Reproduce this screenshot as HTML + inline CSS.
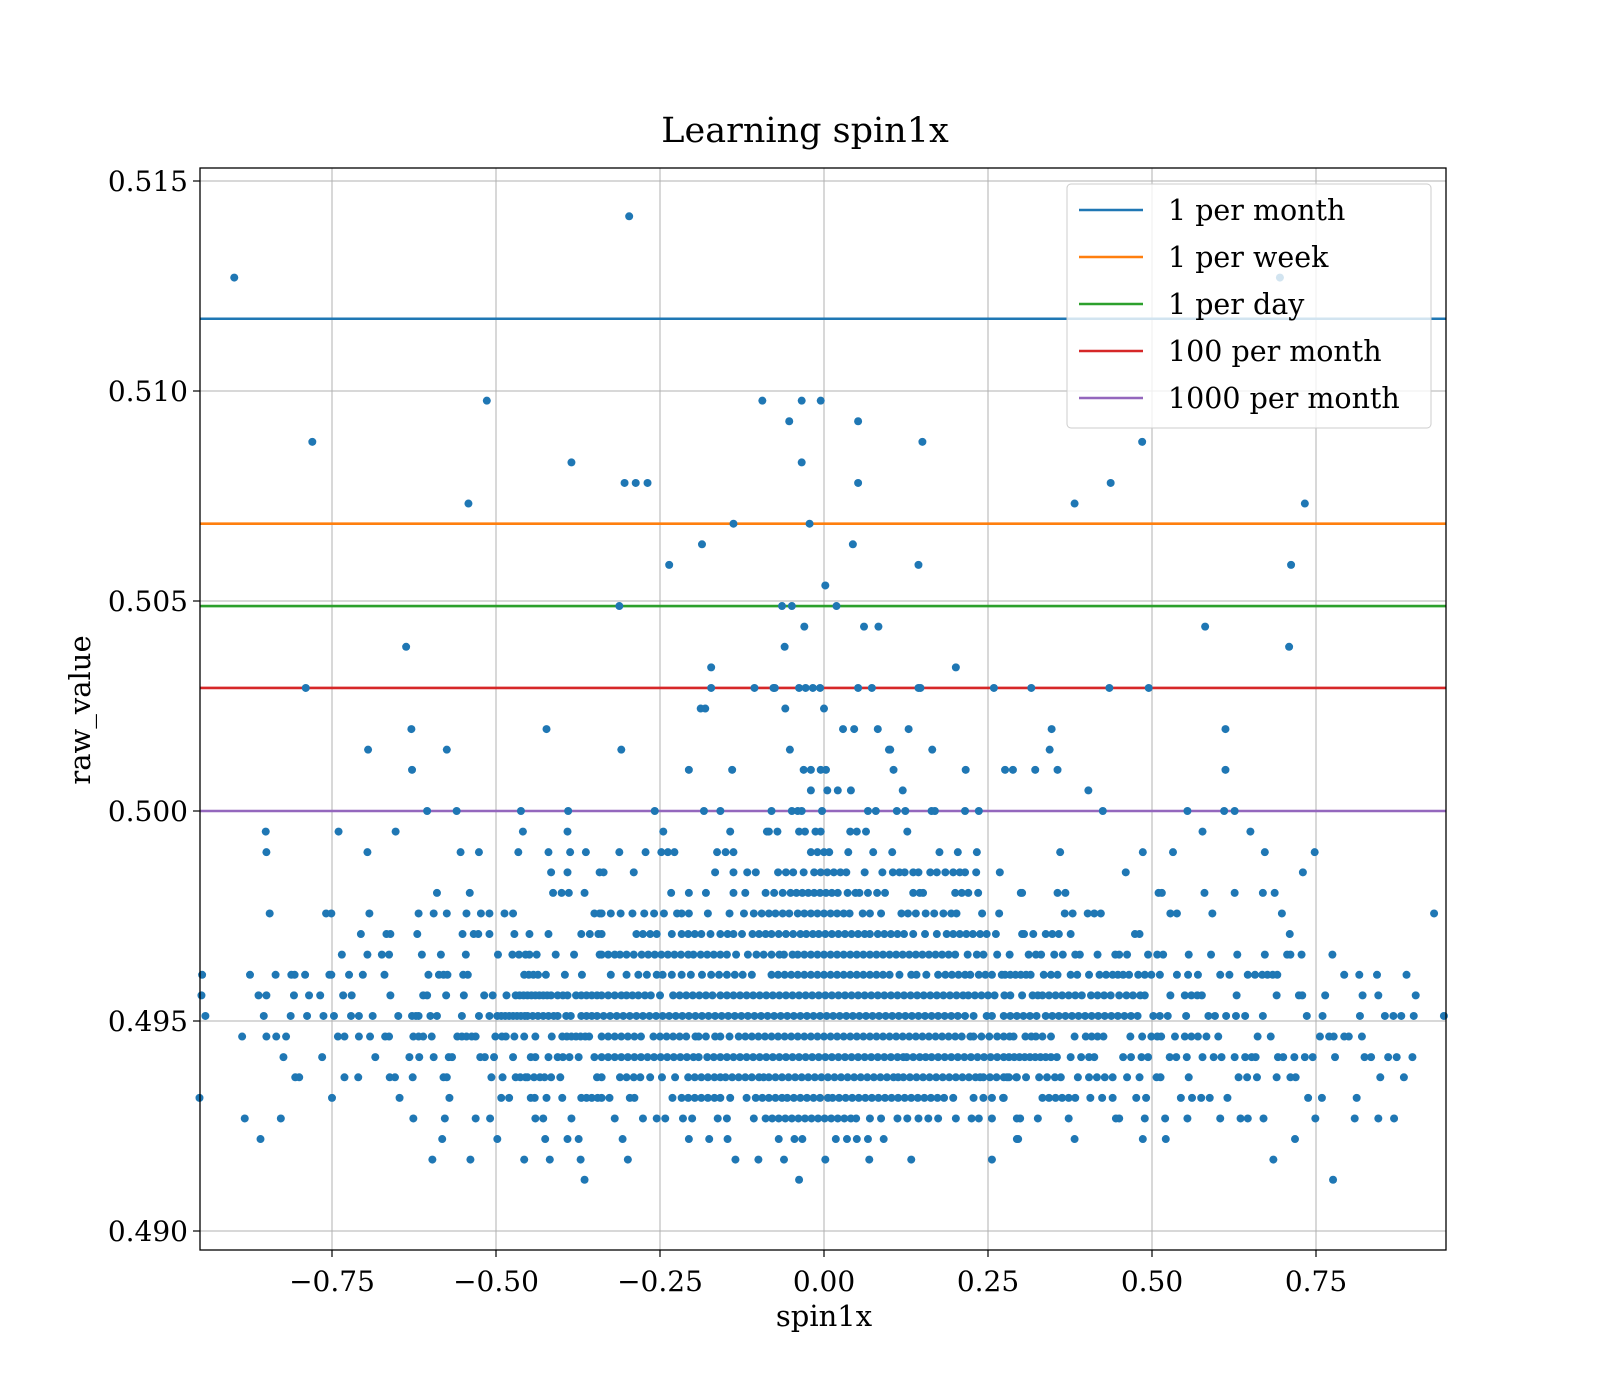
<!DOCTYPE html>
<html><head><meta charset="utf-8"><title>Learning spin1x</title>
<style>
html,body{margin:0;padding:0;background:#fff;}
svg{display:block;font-family:"DejaVu Serif","Liberation Serif",serif;}
</style></head>
<body>
<svg id="chart" width="1600" height="1400" viewBox="0 0 1600 1400" xmlns="http://www.w3.org/2000/svg">
<rect x="0" y="0" width="1600" height="1400" fill="#fff"/>
<text x="805" y="142" font-size="35" text-anchor="middle">Learning spin1x</text>
<g id="grid"></g>
<g id="hlines"></g>
<g id="points"></g>
<rect x="200" y="168" width="1246" height="1082" fill="none" stroke="#000" stroke-width="1.3"/>
<g id="xticks"></g>
<g id="yticks"></g>
<text x="824" y="1326" font-size="29" text-anchor="middle">spin1x</text>
<text x="90" y="710" font-size="29" text-anchor="middle" transform="rotate(-90 90 710)">raw_value</text>
<g id="legend">
<rect x="1067" y="184" width="364" height="244" rx="4" fill="#fff" fill-opacity="0.8" stroke="#ccc" stroke-width="1"/>
</g>
</svg>
<script>
const xTicks=[-0.75,-0.5,-0.25,0,0.25,0.5,0.75];
const xTickLabels=["\u22120.75","\u22120.50","\u22120.25","0.00","0.25","0.50","0.75"];
const yTicks=[0.490,0.495,0.500,0.505,0.510,0.515];
const yTickLabels=["0.490","0.495","0.500","0.505","0.510","0.515"];
const lineNames=["1 per month","1 per week","1 per day","100 per month","1000 per month"];
const lineValues=[0.51172,0.50684,0.50488,0.50293,0.50000];
const lineColors=["#1f77b4","#ff7f0e","#2ca02c","#d62728","#9467bd"];
const rowValues=[0.51416,0.51270,0.50977,0.50928,0.50879,0.50830,0.50781,0.50732,0.50684,0.50635,0.50586,0.50537,0.50488,0.50439,0.50391,0.50342,0.50293,0.50244,0.50195,0.50146,0.50098,0.50049,0.50000,
0.49951,0.49902,0.49854,0.49805,0.49756,0.49707,0.49658,0.49610,0.49561,0.49512,0.49463,0.49414,0.49366,0.49317,0.49268,0.49219,0.49170,0.49122];
const rowPoints=[
[-0.297],
[-0.899,0.695],
[-0.514,-0.094,-0.034,-0.005],
[-0.053,0.052],
[-0.78,0.150,0.485],
[-0.385,-0.034],
[-0.304,-0.287,-0.269,0.052,0.437],
[-0.542,0.382,0.733],
[-0.138,-0.022],
[-0.186,0.044],
[-0.236,0.144,0.712],
[0.002],
[-0.312,-0.064,-0.049,0.019],
[-0.030,0.061,0.083,0.581],
[-0.637,-0.060,0.709],
[-0.172,0.201],
[-0.79,-0.172,-0.106,-0.077,-0.075,-0.038,-0.028,-0.017,-0.006,0.052,0.073,0.144,0.147,0.259,0.316,0.435,0.495],
[-0.188,-0.181,-0.059,0.0],
[-0.629,-0.423,0.029,0.046,0.082,0.129,0.347,0.612],
[-0.695,-0.575,-0.309,-0.052,0.099,0.101,0.165,0.344],
[-0.628,-0.206,-0.140,-0.031,-0.020,-0.005,0.003,0.106,0.216,0.276,0.288,0.322,0.356,0.612],
[-0.020,0.005,0.021,0.041,0.120,0.403],
[-0.605,-0.560,-0.462,-0.390,-0.258,-0.183,-0.158,-0.080,-0.049,-0.040,-0.034,-0.003,0.067,0.079,0.111,0.124,0.164,0.169,0.215,0.236,0.425,0.554,0.610,0.626],
[-0.851,-0.740,-0.653,-0.459,-0.391,-0.245,-0.143,-0.087,-0.084,-0.071,-0.038,-0.029,-0.013,-0.005,0.040,0.050,0.064,0.127,0.577,0.650],
[-0.850,-0.696,-0.554,-0.526,-0.466,-0.420,-0.387,-0.363,-0.312,-0.272,-0.248,-0.238,-0.228,-0.163,-0.150,-0.138,-0.020,-0.010,0.0,0.008,0.037,0.075,0.104,0.176,0.204,0.233,0.360,0.486,0.532,0.672,0.748],
[-0.416,-0.391,-0.342,-0.336,-0.290,-0.166,-0.138,-0.117,-0.104,-0.070,-0.058,-0.047,-0.031,-0.015,-0.005,0.005,0.015,0.025,0.034,0.062,0.089,0.105,0.115,0.123,0.136,0.144,0.162,0.172,0.185,0.197,0.207,0.215,0.232,0.268,0.460,0.730],
[-0.590,-0.540,-0.413,-0.400,-0.389,-0.365,-0.233,-0.206,-0.180,-0.138,-0.120,-0.089,-0.076,-0.063,-0.051,-0.042,-0.033,-0.024,-0.015,-0.006,0.003,0.012,0.021,0.036,0.048,0.054,0.067,0.081,0.093,0.136,0.146,0.151,0.200,0.210,0.220,0.235,0.300,0.302,0.356,0.368,0.510,0.515,0.580,0.626,0.669,0.687],
[-0.845,-0.759,-0.751,-0.693,-0.618,-0.595,-0.575,-0.545,-0.523,-0.510,-0.487,-0.474,-0.350,-0.342,-0.339,-0.325,-0.310,-0.292,-0.274,-0.259,-0.244,-0.224,-0.217,-0.206,-0.177,-0.144,-0.122,-0.107,-0.095,-0.084,-0.074,-0.063,-0.053,-0.040,-0.030,-0.020,-0.010,0.0,0.010,0.020,0.030,0.039,0.059,0.070,0.087,0.118,0.128,0.140,0.155,0.168,0.182,0.194,0.202,0.241,0.267,0.367,0.379,0.402,0.412,0.422,0.528,0.538,0.592,0.698,0.93],
[-0.706,-0.667,-0.661,-0.620,-0.551,-0.534,-0.527,-0.510,-0.472,-0.449,-0.420,-0.370,-0.357,-0.344,-0.339,-0.286,-0.276,-0.265,-0.255,-0.232,-0.217,-0.207,-0.197,-0.187,-0.173,-0.158,-0.147,-0.138,-0.125,-0.109,-0.099,-0.089,-0.080,-0.069,-0.058,-0.047,-0.036,-0.027,-0.017,-0.008,0.002,0.012,0.022,0.032,0.042,0.052,0.062,0.070,0.082,0.092,0.102,0.112,0.122,0.136,0.154,0.172,0.187,0.197,0.207,0.217,0.227,0.238,0.248,0.262,0.302,0.305,0.319,0.338,0.348,0.358,0.376,0.474,0.481,0.710],
[-0.735,-0.696,-0.674,-0.663,-0.613,-0.584,-0.546,-0.497,-0.475,-0.465,-0.455,-0.449,-0.438,-0.409,-0.381,-0.342,-0.339,-0.329,-0.319,-0.311,-0.301,-0.290,-0.278,-0.268,-0.258,-0.248,-0.238,-0.228,-0.218,-0.207,-0.199,-0.188,-0.178,-0.168,-0.158,-0.148,-0.134,-0.116,-0.103,-0.092,-0.080,-0.068,-0.061,-0.048,-0.040,-0.030,-0.020,-0.010,0.0,0.010,0.020,0.030,0.040,0.050,0.060,0.070,0.080,0.090,0.100,0.110,0.120,0.130,0.140,0.150,0.160,0.170,0.180,0.190,0.200,0.219,0.233,0.243,0.264,0.283,0.312,0.323,0.331,0.351,0.364,0.383,0.390,0.417,0.444,0.450,0.462,0.494,0.508,0.517,0.556,0.590,0.630,0.672,0.706,0.711,0.728,0.775],
[-0.948,-0.875,-0.836,-0.812,-0.807,-0.791,-0.754,-0.751,-0.724,-0.703,-0.670,-0.603,-0.587,-0.580,-0.574,-0.550,-0.543,-0.457,-0.450,-0.443,-0.436,-0.424,-0.395,-0.369,-0.325,-0.301,-0.283,-0.270,-0.255,-0.246,-0.232,-0.217,-0.203,-0.186,-0.172,-0.160,-0.148,-0.136,-0.124,-0.110,-0.080,-0.070,-0.060,-0.050,-0.040,-0.030,-0.020,-0.010,0.0,0.010,0.020,0.030,0.040,0.050,0.060,0.070,0.080,0.090,0.100,0.115,0.133,0.141,0.156,0.174,0.185,0.195,0.205,0.215,0.223,0.236,0.246,0.256,0.271,0.276,0.284,0.292,0.300,0.308,0.315,0.335,0.346,0.356,0.376,0.386,0.404,0.420,0.430,0.440,0.448,0.456,0.465,0.479,0.489,0.499,0.512,0.538,0.555,0.570,0.604,0.618,0.646,0.657,0.668,0.676,0.684,0.691,0.793,0.816,0.843,0.888],
[-0.949,-0.862,-0.850,-0.808,-0.785,-0.768,-0.733,-0.720,-0.661,-0.611,-0.605,-0.576,-0.549,-0.518,-0.505,-0.484,-0.470,-0.464,-0.458,-0.452,-0.446,-0.440,-0.434,-0.428,-0.422,-0.416,-0.406,-0.398,-0.391,-0.378,-0.370,-0.362,-0.354,-0.346,-0.339,-0.329,-0.319,-0.309,-0.301,-0.292,-0.283,-0.273,-0.264,-0.250,-0.230,-0.220,-0.210,-0.200,-0.190,-0.180,-0.170,-0.158,-0.148,-0.138,-0.128,-0.118,-0.108,-0.098,-0.088,-0.078,-0.068,-0.058,-0.048,-0.038,-0.028,-0.018,-0.008,0.002,0.012,0.022,0.032,0.042,0.052,0.062,0.072,0.082,0.092,0.102,0.112,0.122,0.132,0.142,0.152,0.162,0.172,0.182,0.192,0.202,0.212,0.220,0.230,0.240,0.250,0.260,0.275,0.284,0.302,0.318,0.326,0.333,0.343,0.353,0.363,0.373,0.383,0.393,0.407,0.417,0.427,0.437,0.450,0.461,0.471,0.482,0.489,0.528,0.550,0.560,0.569,0.576,0.629,0.690,0.724,0.729,0.764,0.821,0.845,0.902],
[-0.943,-0.854,-0.813,-0.788,-0.763,-0.747,-0.721,-0.709,-0.688,-0.649,-0.628,-0.622,-0.618,-0.600,-0.590,-0.552,-0.526,-0.510,-0.498,-0.492,-0.486,-0.480,-0.474,-0.468,-0.462,-0.456,-0.452,-0.444,-0.436,-0.428,-0.420,-0.412,-0.406,-0.393,-0.386,-0.370,-0.362,-0.354,-0.346,-0.336,-0.326,-0.316,-0.306,-0.296,-0.286,-0.276,-0.266,-0.256,-0.246,-0.236,-0.226,-0.216,-0.206,-0.196,-0.186,-0.176,-0.166,-0.156,-0.146,-0.136,-0.126,-0.116,-0.106,-0.096,-0.086,-0.076,-0.066,-0.056,-0.046,-0.036,-0.026,-0.016,-0.006,0.004,0.014,0.024,0.034,0.044,0.054,0.064,0.074,0.084,0.094,0.104,0.114,0.124,0.134,0.144,0.154,0.164,0.174,0.184,0.194,0.204,0.215,0.228,0.248,0.256,0.274,0.284,0.294,0.304,0.314,0.324,0.338,0.348,0.358,0.368,0.378,0.388,0.398,0.408,0.418,0.428,0.438,0.448,0.458,0.468,0.478,0.502,0.512,0.524,0.552,0.586,0.596,0.613,0.628,0.642,0.669,0.736,0.760,0.817,0.855,0.868,0.880,0.899,0.945],
[-0.887,-0.850,-0.835,-0.820,-0.741,-0.731,-0.709,-0.692,-0.669,-0.663,-0.626,-0.618,-0.611,-0.598,-0.559,-0.552,-0.545,-0.537,-0.531,-0.501,-0.491,-0.485,-0.472,-0.457,-0.440,-0.415,-0.399,-0.392,-0.385,-0.378,-0.371,-0.364,-0.358,-0.339,-0.329,-0.319,-0.309,-0.299,-0.289,-0.279,-0.260,-0.250,-0.240,-0.230,-0.220,-0.210,-0.196,-0.191,-0.180,-0.166,-0.158,-0.144,-0.130,-0.120,-0.110,-0.100,-0.090,-0.080,-0.070,-0.060,-0.050,-0.040,-0.030,-0.020,-0.010,0.0,0.010,0.020,0.030,0.040,0.050,0.060,0.070,0.080,0.090,0.100,0.110,0.120,0.130,0.140,0.150,0.160,0.170,0.180,0.190,0.200,0.210,0.223,0.228,0.240,0.252,0.264,0.274,0.283,0.289,0.307,0.316,0.323,0.333,0.346,0.382,0.399,0.408,0.417,0.426,0.467,0.485,0.499,0.508,0.514,0.535,0.550,0.560,0.570,0.583,0.601,0.661,0.681,0.756,0.770,0.777,0.793,0.800,0.82],
[-0.824,-0.765,-0.684,-0.632,-0.617,-0.595,-0.572,-0.567,-0.524,-0.517,-0.503,-0.474,-0.447,-0.440,-0.420,-0.406,-0.398,-0.388,-0.374,-0.350,-0.339,-0.329,-0.319,-0.309,-0.299,-0.289,-0.279,-0.269,-0.259,-0.249,-0.239,-0.229,-0.219,-0.209,-0.199,-0.191,-0.178,-0.168,-0.158,-0.148,-0.138,-0.128,-0.118,-0.108,-0.098,-0.088,-0.078,-0.068,-0.058,-0.048,-0.038,-0.028,-0.018,-0.008,0.002,0.012,0.022,0.032,0.042,0.052,0.062,0.072,0.082,0.092,0.102,0.112,0.121,0.126,0.136,0.146,0.155,0.164,0.174,0.184,0.194,0.204,0.214,0.224,0.234,0.244,0.254,0.264,0.274,0.282,0.290,0.298,0.306,0.314,0.322,0.330,0.338,0.346,0.355,0.376,0.392,0.404,0.412,0.456,0.468,0.484,0.494,0.527,0.537,0.553,0.577,0.594,0.606,0.626,0.642,0.652,0.658,0.692,0.700,0.717,0.733,0.745,0.779,0.824,0.834,0.860,0.873,0.897],
[-0.806,-0.800,-0.731,-0.710,-0.662,-0.654,-0.627,-0.580,-0.575,-0.507,-0.490,-0.470,-0.463,-0.455,-0.452,-0.442,-0.433,-0.426,-0.416,-0.402,-0.346,-0.339,-0.311,-0.301,-0.290,-0.280,-0.265,-0.247,-0.227,-0.207,-0.197,-0.187,-0.177,-0.167,-0.158,-0.150,-0.140,-0.130,-0.120,-0.110,-0.099,-0.092,-0.084,-0.074,-0.064,-0.054,-0.044,-0.034,-0.024,-0.014,-0.004,0.006,0.016,0.026,0.036,0.046,0.056,0.066,0.076,0.086,0.096,0.106,0.113,0.121,0.131,0.141,0.151,0.161,0.171,0.181,0.191,0.201,0.211,0.221,0.231,0.238,0.243,0.253,0.263,0.274,0.282,0.294,0.279,0.293,0.308,0.328,0.340,0.352,0.361,0.387,0.404,0.416,0.428,0.440,0.462,0.481,0.507,0.513,0.556,0.632,0.645,0.660,0.690,0.711,0.719,0.848,0.884],
[-0.952,-0.750,-0.647,-0.571,-0.492,-0.480,-0.447,-0.441,-0.423,-0.399,-0.370,-0.362,-0.354,-0.345,-0.339,-0.327,-0.296,-0.289,-0.231,-0.217,-0.207,-0.197,-0.187,-0.177,-0.167,-0.158,-0.143,-0.118,-0.104,-0.094,-0.084,-0.074,-0.064,-0.056,-0.046,-0.036,-0.026,-0.016,-0.006,0.006,0.013,0.023,0.033,0.043,0.053,0.063,0.073,0.083,0.093,0.103,0.113,0.123,0.133,0.143,0.153,0.163,0.173,0.183,0.197,0.228,0.243,0.256,0.273,0.274,0.333,0.343,0.353,0.363,0.373,0.383,0.406,0.424,0.440,0.476,0.491,0.544,0.561,0.575,0.588,0.615,0.738,0.759,0.812],
[-0.883,-0.828,-0.626,-0.578,-0.531,-0.509,-0.440,-0.428,-0.385,-0.319,-0.276,-0.255,-0.242,-0.215,-0.201,-0.162,-0.148,-0.107,-0.089,-0.079,-0.069,-0.059,-0.049,-0.039,-0.029,-0.019,-0.009,0.001,0.011,0.021,0.031,0.041,0.049,0.070,0.087,0.112,0.127,0.144,0.159,0.174,0.201,0.225,0.236,0.256,0.294,0.299,0.326,0.373,0.445,0.450,0.489,0.520,0.554,0.604,0.635,0.646,0.670,0.749,0.809,0.845,0.869],
[-0.859,-0.582,-0.498,-0.425,-0.391,-0.374,-0.307,-0.206,-0.175,-0.147,-0.069,-0.045,-0.033,0.018,0.035,0.050,0.067,0.091,0.294,0.296,0.382,0.486,0.521,0.718],
[-0.597,-0.539,-0.457,-0.418,-0.371,-0.299,-0.135,-0.100,-0.061,0.002,0.069,0.133,0.256,0.685],
[-0.365,-0.038,0.776]
];
const X0=200,X1=1446,Y0=168,Y1=1250;
function xScale(v){return 824+v*656;}
function yScale(v){return 811-(v-0.5)*42000;}
const NS="http://www.w3.org/2000/svg";
function mk(tag,attrs,parent){const e=document.createElementNS(NS,tag);for(const k in attrs)e.setAttribute(k,attrs[k]);parent.appendChild(e);return e;}
const grid=document.getElementById('grid');
const xt=document.getElementById('xticks');
const yt=document.getElementById('yticks');
xTicks.forEach((t,i)=>{
  const x=xScale(t);
  const g=mk('line',{x1:x,x2:x,y1:Y0,y2:Y1,stroke:'#b0b0b0','stroke-width':1},grid);
  
  
  const tk=mk('line',{x1:x,x2:x,y1:Y1,y2:Y1+7,stroke:'#000','stroke-width':1.2},xt);
  
  
  const tx=mk('text',{x:x,y:Y1+41,'font-size':28,'text-anchor':'middle'},xt);
  
  
  tx.textContent=xTickLabels[i];
});
yTicks.forEach((t,i)=>{
  const y=yScale(t);
  const g=mk('line',{x1:X0,x2:X1,y1:y,y2:y,stroke:'#b0b0b0','stroke-width':1},grid);
  
  
  const tk=mk('line',{x1:X0-7,x2:X0,y1:y,y2:y,stroke:'#000','stroke-width':1.2},yt);
  
  
  const tx=mk('text',{x:X0-12,y:y+10,'font-size':28,'text-anchor':'end'},yt);
  
  
  tx.textContent=yTickLabels[i];
});
const hl=document.getElementById('hlines');
lineValues.forEach((v,i)=>{
  const y=yScale(v);
  const l=mk('line',{x1:X0,x2:X1,y1:y,y2:y,stroke:lineColors[i],'stroke-width':2.6},hl);
  
  
});
const pts=document.getElementById('points');
rowValues.forEach((yv,r)=>{
  (rowPoints[r]||[]).forEach(xv=>{
    const cx=xScale(xv);
    if(cx<X0-4||cx>X1+4)return;
    const c=mk('circle',{cx:cx,cy:yScale(yv),r:4,fill:'#1f77b4'},pts);
    
    
  });
});
const lg=document.getElementById('legend');
const legendY=[210,257,304,351,398];
lineNames.forEach((n,i)=>{
  const y=legendY[i];
  const l=mk('line',{x1:1079,x2:1143,y1:y,y2:y,stroke:lineColors[i],'stroke-width':2.6},lg);
  
  
  const t=mk('text',{x:1168,y:y+10,'font-size':28.5},lg);
  
  
  t.textContent=n;
});
</script>
</body></html>
